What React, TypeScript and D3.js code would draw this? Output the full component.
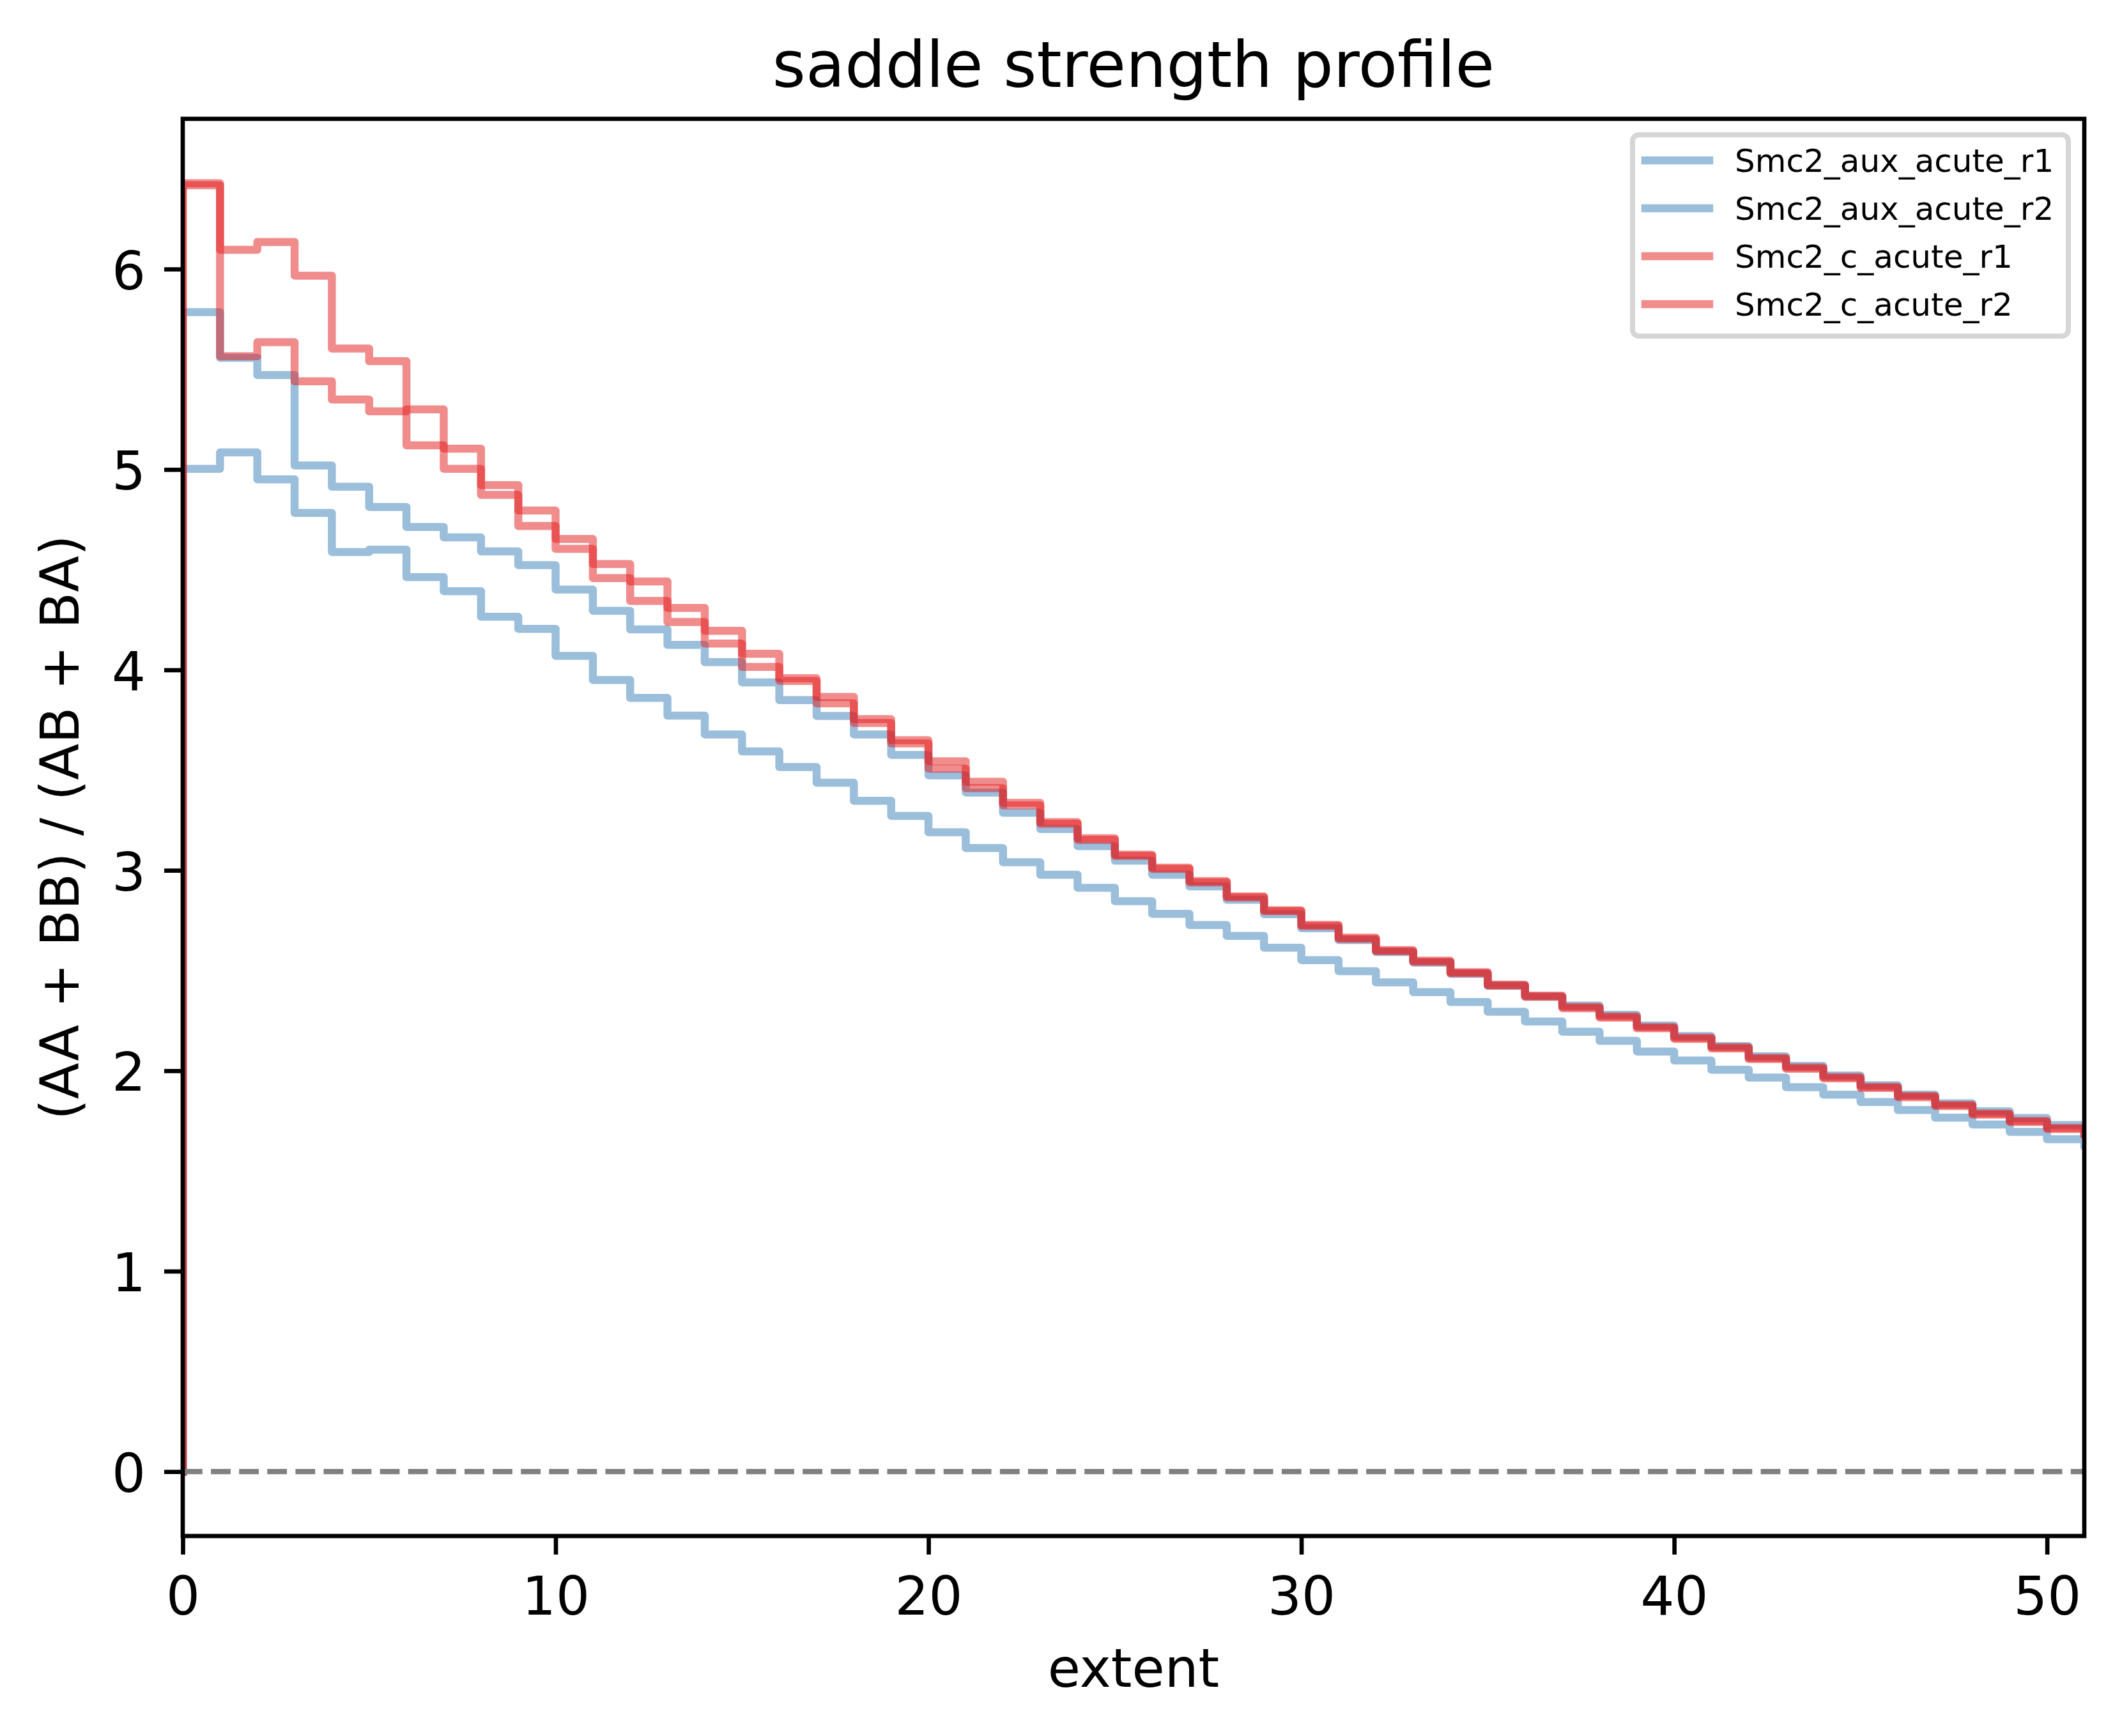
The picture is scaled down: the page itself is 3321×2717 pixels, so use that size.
import React, { useRef, useEffect } from "react";
import * as d3 from "d3";

// extent bins run 0..51, one value per unit bin (last value sits just past the right edge)
const extentTicks = [0, 10, 20, 30, 40, 50];
const strengthTicks = [0, 1, 2, 3, 4, 5, 6];
const seriesNames = ["Smc2_aux_acute_r1", "Smc2_aux_acute_r2", "Smc2_c_acute_r1", "Smc2_c_acute_r2"];
const seriesColors = ["#377eb8", "#377eb8", "#e41a1c", "#e41a1c"];

const auxR1 = [
  5.785, 5.557, 5.471, 5.02, 4.914, 4.813, 4.713, 4.661, 4.591, 4.523,
  4.401, 4.295, 4.202, 4.125, 4.039, 3.938, 3.849, 3.77, 3.678, 3.576,
  3.474, 3.388, 3.287, 3.206, 3.121, 3.048, 2.978, 2.92, 2.853, 2.781,
  2.711, 2.652, 2.592, 2.54, 2.484, 2.425, 2.37, 2.325, 2.279, 2.226,
  2.173, 2.123, 2.072, 2.024, 1.976, 1.928, 1.881, 1.838, 1.798, 1.764,
  1.729, 1.69,
];
const auxR2 = [
  5.003, 5.085, 4.951, 4.783, 4.588, 4.6, 4.463, 4.393, 4.265, 4.205,
  4.07, 3.95, 3.86, 3.772, 3.678, 3.593, 3.515, 3.437, 3.347, 3.271,
  3.19, 3.111, 3.04, 2.978, 2.913, 2.846, 2.783, 2.727, 2.673, 2.614,
  2.552, 2.497, 2.441, 2.392, 2.343, 2.294, 2.246, 2.195, 2.149, 2.096,
  2.051, 2.005, 1.966, 1.918, 1.881, 1.844, 1.804, 1.766, 1.732, 1.695,
  1.658, 1.62,
];
const cR1 = [
  6.428, 6.096, 6.135, 5.967, 5.603, 5.54, 5.12, 5.104, 4.873, 4.718,
  4.604, 4.458, 4.344, 4.239, 4.131, 4.015, 3.945, 3.833, 3.735, 3.633,
  3.507, 3.41, 3.324, 3.232, 3.152, 3.072, 3.007, 2.94, 2.865, 2.796,
  2.722, 2.658, 2.596, 2.543, 2.486, 2.424, 2.369, 2.312, 2.265, 2.212,
  2.159, 2.111, 2.058, 2.01, 1.962, 1.914, 1.868, 1.824, 1.781, 1.744,
  1.709, 1.675,
];
const cR2 = [
  6.418, 5.565, 5.635, 5.44, 5.349, 5.29, 5.3, 5.003, 4.922, 4.795,
  4.653, 4.528, 4.441, 4.309, 4.195, 4.08, 3.958, 3.865, 3.754, 3.649,
  3.544, 3.442, 3.337, 3.24, 3.16, 3.078, 3.013, 2.946, 2.87, 2.8,
  2.728, 2.664, 2.602, 2.549, 2.492, 2.43, 2.375, 2.318, 2.271, 2.218,
  2.165, 2.117, 2.064, 2.016, 1.968, 1.92, 1.874, 1.83, 1.787, 1.75,
  1.715, 1.68,
];
const allSeries = [auxR1, auxR2, cR1, cR2];

const W = 3321;
const H = 2717;
const FONT = "DejaVu Sans";

const SaddleChart = () => {
  const svgRef = useRef<SVGSVGElement>(null);

  useEffect(() => {
    // plot box (matplotlib 600 dpi, tight bbox)
    const left = 286, right = 3262, top = 186, bottom = 2404;
    const lw = 12.5; // 1.5pt
    const thin = 6.67; // 0.8pt
    const tickLen = 29;

    const svg = d3.select(svgRef.current);
    svg.selectAll("*").remove();

    // y autoscale like matplotlib: 5% margins over data incl. the 0 start
    const ymax = d3.max(allSeries, (s) => d3.max(s.slice(0, 51)))!;
    const ymin = 0;
    const pad = (ymax - ymin) * 0.05;

    const x = d3.scaleLinear().domain([0, 51]).range([left, right]);
    const y = d3.scaleLinear().domain([ymin - pad, ymax + pad]).range([bottom, top]);

    svg.append("rect").attr("width", W).attr("height", H).attr("fill", "#fff");

    svg
      .append("clipPath")
      .attr("id", "plotclip")
      .append("rect")
      .attr("x", left)
      .attr("y", top)
      .attr("width", right - left)
      .attr("height", bottom - top);

    const plot = svg.append("g").attr("clip-path", "url(#plotclip)");

    // steps-pre: start at (0, 0) then each bin value held over (i, i+1]
    const line = d3
      .line<number>()
      .x((d, i) => x(i))
      .y((d) => y(d))
      .curve(d3.curveStepBefore);

    allSeries.forEach((s, k) => {
      plot
        .append("path")
        .attr("d", line([0, ...s]))
        .attr("fill", "none")
        .attr("stroke", seriesColors[k])
        .attr("stroke-opacity", 0.5)
        .attr("stroke-width", lw)
        .attr("stroke-linejoin", "round")
        .attr("stroke-linecap", "square");
    });

    // zero reference line
    plot
      .append("line")
      .attr("x1", left)
      .attr("x2", right)
      .attr("y1", y(0))
      .attr("y2", y(0))
      .attr("stroke", "#808080")
      .attr("stroke-width", 8.33)
      .attr("stroke-dasharray", "30.8,13.3");

    // axes
    const xAxis = svg
      .append("g")
      .attr("transform", `translate(0,${bottom})`)
      .call(d3.axisBottom(x).tickValues(extentTicks).tickSize(tickLen).tickFormat(d3.format("d")));
    xAxis.select(".domain").remove();
    xAxis.selectAll(".tick line").attr("stroke", "#000").attr("stroke-width", thin);
    xAxis
      .selectAll(".tick text")
      .attr("y", 123)
      .attr("dy", null)
      .attr("fill", "#000")
      .attr("font-size", 83.3)
      .attr("font-family", FONT);

    const yAxis = svg
      .append("g")
      .attr("transform", `translate(${left},0)`)
      .call(d3.axisLeft(y).tickValues(strengthTicks).tickSize(tickLen).tickFormat(d3.format("d")));
    yAxis.select(".domain").remove();
    yAxis.selectAll(".tick line").attr("stroke", "#000").attr("stroke-width", thin);
    yAxis
      .selectAll(".tick text")
      .attr("x", -58)
      .attr("dy", null)
      .attr("y", 31)
      .attr("fill", "#000")
      .attr("font-size", 83.3)
      .attr("font-family", FONT);

    // spines
    svg
      .append("rect")
      .attr("x", left)
      .attr("y", top)
      .attr("width", right - left)
      .attr("height", bottom - top)
      .attr("fill", "none")
      .attr("stroke", "#000")
      .attr("stroke-width", thin)
      .attr("stroke-linejoin", "miter");

    // labels
    svg
      .append("text")
      .attr("x", (left + right) / 2)
      .attr("y", 136)
      .attr("text-anchor", "middle")
      .attr("font-family", FONT)
      .attr("font-size", 100)
      .text("saddle strength profile");

    svg
      .append("text")
      .attr("x", (left + right) / 2)
      .attr("y", 2640)
      .attr("text-anchor", "middle")
      .attr("font-family", FONT)
      .attr("font-size", 83.3)
      .text("extent");

    svg
      .append("text")
      .attr("transform", `translate(123,${(top + bottom) / 2}) rotate(-90)`)
      .attr("text-anchor", "middle")
      .attr("font-family", FONT)
      .attr("font-size", 83.3)
      .text("(AA + BB) / (AB + BA)");

    // legend (upper right, fontsize 6)
    const legend = svg.append("g");
    legend
      .append("rect")
      .attr("x", 2555)
      .attr("y", 211)
      .attr("width", 3237 - 2555)
      .attr("height", 526 - 211)
      .attr("rx", 10)
      .attr("fill", "#fff")
      .attr("fill-opacity", 0.8)
      .attr("stroke", "#cccccc")
      .attr("stroke-opacity", 0.8)
      .attr("stroke-width", 8);

    seriesNames.forEach((name, k) => {
      const ly = 251 + k * 75;
      legend
        .append("line")
        .attr("x1", 2575)
        .attr("x2", 2675)
        .attr("y1", ly)
        .attr("y2", ly)
        .attr("stroke", seriesColors[k])
        .attr("stroke-opacity", 0.5)
        .attr("stroke-width", lw)
        .attr("stroke-linecap", "square");
      legend
        .append("text")
        .attr("x", 2715)
        .attr("y", ly + 18)
        .attr("font-family", FONT)
        .attr("font-size", 50)
        .text(name);
    });
  }, []);

  return (
    <svg
      ref={svgRef}
      width={W}
      height={H}
      style={{ position: "absolute", left: 0, top: 0 }}
    ></svg>
  );
};

export default function App() {
  return <SaddleChart />;
}
